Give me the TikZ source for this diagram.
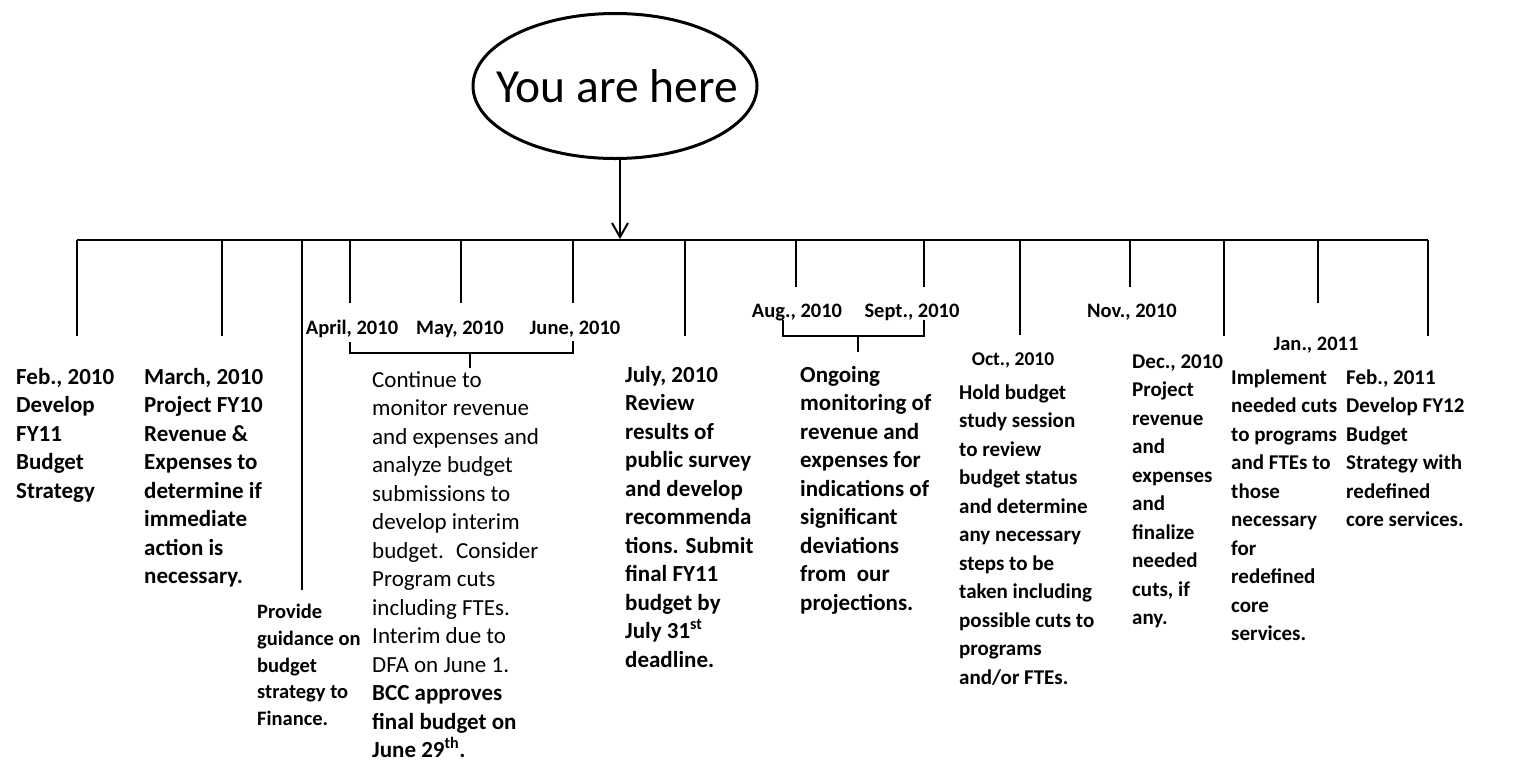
\documentclass[tikz,border=0pt]{standalone}
\usepackage{fontspec}
\setmainfont{Carlito}
\usetikzlibrary{shapes.geometric,arrows.meta}
\newcommand{\bodyfont}{\fontsize{21}{28.5}\selectfont}
\newcommand{\bigbodyfont}{\fontsize{23}{28.5}\selectfont}
\newcommand{\smallfont}{\fontsize{20.5}{26.6}\selectfont}
\begin{document}
\begin{tikzpicture}[x=1pt,y=-1pt,
  body/.style={anchor=north west, inner sep=0pt, align=left, font=\bodyfont\bfseries},
  bigbody/.style={anchor=north west, inner sep=0pt, align=left, font=\bigbodyfont\bfseries},
  bodyreg/.style={anchor=north west, inner sep=0pt, align=left, font=\bigbodyfont},
  smallbody/.style={anchor=north west, inner sep=0pt, align=left, font=\smallfont\bfseries},
  datelbl/.style={anchor=base, inner sep=0pt, font=\smallfont\bfseries},
  tickline/.style={line width=2.4pt},
  axis/.style={line width=2pt},
  brace/.style={line width=2pt},
  arr/.style={line width=2pt, -{Straight Barb[length=14pt,width=16pt,line width=2pt]}}]
\useasboundingbox (0,0) rectangle (1533,777);

% "You are here"
\node[ellipse, draw, line width=3pt, minimum width=284pt, minimum height=145pt,
      inner sep=0pt] (here) at (615,86) {};
\node[inner sep=0pt, font=\fontsize{47.5}{50}\selectfont] (heretxt) at (617,86) {You are here};

% timeline
\coordinate (tlL) at (77,240);
\coordinate (tlR) at (1428,240);
\draw[axis] (tlL) -- (tlR);
\coordinate (hit) at (620,239);
\draw[arr] (here.south -| hit) -- (hit);

% ticks
\foreach \i/\x/\b in {1/77/336, 2/222/336, 3/302/590, 4/350/303, 5/461/303, 6/573/303,
                      7/685/336, 8/796/287, 9/924/287, 10/1020/335, 11/1130/287,
                      12/1224/336, 13/1318/303, 14/1428/336}{
  \coordinate (tt\i) at (\x,240);
  \coordinate (tb\i) at (\x,\b);
  \draw[tickline] (tt\i) -- (tb\i);
}

% date labels
\node[datelbl] (apr) at (352,334) {April, 2010};
\node[datelbl] (may) at (460,334) {May, 2010};
\node[datelbl] (jun) at (575,334) {June, 2010};
\node[datelbl] (aug) at (797,317) {Aug., 2010};
\node[datelbl] (sep) at (912,317) {Sept., 2010};
\node[datelbl] (nov) at (1132,317) {Nov., 2010};
\node[datelbl] (jan) at (1316,350) {Jan., 2011};
\node[datelbl, font=\fontsize{19.5}{26}\selectfont\bfseries] (oct) at (1013,365) {Oct., 2010};

% brackets
\coordinate (b1a) at (350,342);
\coordinate (b1b) at (350,353);
\coordinate (b1c) at (573,353);
\coordinate (b1d) at (573,341);
\coordinate (b1m) at (470,353);
\coordinate (b1n) at (470,368);
\draw[brace] (b1a) -- (b1b) -- (b1c) -- (b1d);
\draw[brace] (b1m) -- (b1n);
\coordinate (b2a) at (783,320);
\coordinate (b2b) at (783,336);
\coordinate (b2c) at (924,336);
\coordinate (b2d) at (924,320);
\coordinate (b2m) at (858,336);
\coordinate (b2n) at (858,352);
\draw[brace] (b2a) -- (b2b) -- (b2c) -- (b2d);
\draw[brace] (b2m) -- (b2n);

% text blocks
\node[bigbody] (feb10) at (16,364) {\strut Feb., 2010\\Develop\\FY11\\Budget\\Strategy};
\node[bigbody] (mar10) at (144,364) {\strut March, 2010\\Project FY10\\Revenue \&\\Expenses to\\determine if\\immediate\\action is\\necessary.};
\node[smallbody] (prov) at (257,600) {\strut Provide\\guidance on\\budget\\strategy to\\Finance.};
\node[bodyreg] (cont) at (372,367) {\strut Continue to\\monitor revenue\\and expenses and\\analyze budget\\submissions to\\develop interim\\budget.~ Consider\\Program cuts\\including FTEs.\\Interim due to\\DFA on June 1.\\\textbf{BCC approves}\\\textbf{final budget on}\\\textbf{June 29\textsuperscript{th}.}};
\node[bigbody] (jul10) at (625,362) {\strut July, 2010\\Review\\results of\\public survey\\and develop\\recommenda\\tions. Submit\\final FY11\\budget by\\July 31\textsuperscript{st}\\deadline.};
\node[bigbody] (ongo) at (800,362) {\strut Ongoing\\monitoring of\\revenue and\\expenses for\\indications of\\significant\\deviations\\from~ our\\projections.};
\node[body] (hold) at (959,379) {\strut Hold budget\\study session\\to review\\budget status\\and determine\\any necessary\\steps to be\\taken including\\possible cuts to\\programs\\and/or FTEs.};
\node[body] (dec10) at (1132,348) {\strut Dec., 2010\\Project\\revenue\\and\\expenses\\and\\finalize\\needed\\cuts, if\\any.};
\node[body] (impl) at (1231,364) {\strut Implement\\needed cuts\\to programs\\and FTEs to\\those\\necessary\\for\\redefined\\core\\services.};
\node[body] (feb11) at (1346,364) {\strut Feb., 2011\\Develop FY12\\Budget\\Strategy with\\redefined\\core services.};
\end{tikzpicture}
\end{document}
